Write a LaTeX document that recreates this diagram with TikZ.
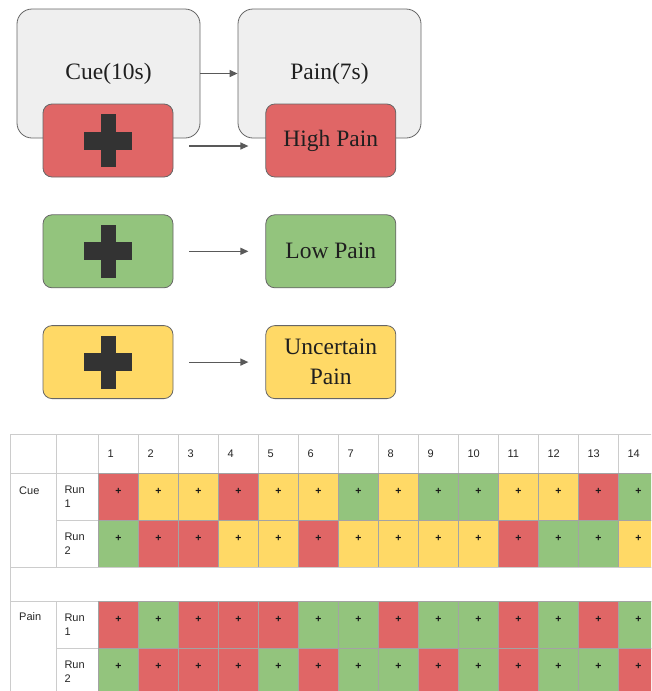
\documentclass[tikz,border=0pt]{standalone}
\usepackage{fontspec}
\setmainfont{Liberation Serif}
\newfontfamily\tablefont{Liberation Sans}
\usetikzlibrary{arrows.meta,positioning}

\definecolor{hi}{HTML}{E06666}
\definecolor{lo}{HTML}{93C47D}
\definecolor{un}{HTML}{FFD966}
\definecolor{phasegray}{HTML}{EFEFEF}
\definecolor{edgegray}{HTML}{666666}
\definecolor{arrowgray}{HTML}{595959}
\definecolor{crossgray}{HTML}{333333}
\definecolor{gridgray}{HTML}{CCCCCC}
\definecolor{cellgray}{HTML}{A3A3A3}

\tikzset{
  phase/.style={draw=edgegray,fill=phasegray,line width=0.8pt,rounded corners=15pt,
    minimum width=183pt,minimum height=129pt,font=\fontsize{23.5}{30}\selectfont,text=black!88},
  cuebox/.style={draw=edgegray,fill=#1,line width=0.8pt,rounded corners=9pt,
    minimum width=130pt,minimum height=73pt,align=center,font=\fontsize{23.5}{30}\selectfont,text=black!88},
  flow/.style={draw=arrowgray,line width=1.2pt,-{Triangle[length=8pt,width=7pt]}},
  head/.style={draw=gridgray,fill=white,line width=1pt,anchor=north west,minimum width=40pt,
    minimum height=39pt,inner xsep=9pt,text width=22pt,align=left,
    font=\tablefont\fontsize{11}{13}\selectfont,text=black!85},
  labcell/.style={draw=gridgray,fill=white,line width=1pt,anchor=north west,
    minimum width=46pt,minimum height=94pt},
  runcell/.style={draw=gridgray,fill=white,line width=1pt,anchor=north west,minimum width=42pt,
    minimum height=47pt,inner xsep=8pt,text width=26pt,align=left,
    font=\tablefont\fontsize{11}{14}\selectfont,text=black!85},
  txt/.style={anchor=west,inner sep=0pt,font=\tablefont\fontsize{11}{13}\selectfont,text=black!85},
  cell/.style={draw=cellgray,fill=#1,line width=0.8pt,anchor=north west,minimum width=40pt,
    minimum height=47pt,inner sep=0pt,text height=3pt,text depth=7.5pt,
    font=\tablefont\bfseries\fontsize{10.5}{12}\selectfont,text=black!90},
  gaprow/.style={draw=gridgray,fill=white,line width=1pt,anchor=north west,
    minimum width=648pt,minimum height=34pt}
}

\begin{document}
\begin{tikzpicture}[x=1pt,y=-1pt]
  \clip (0,0) rectangle (651,691);
  \fill[white] (0,0) rectangle (651,691);

  % Phases
  \node[phase] (cue) at (108.5,73.5) {Cue(10s)};
  \node[phase] (pain) at (329.5,73.5) {Pain(7s)};

  % Cue / pain pairs
  \node[cuebox=hi] (cue-high) at (108,140.5) {};
  \node[cuebox=hi,right=92pt of cue-high] (pain-high) {High Pain};
  \node[cuebox=lo,below=37pt of cue-high] (cue-low) {};
  \node[cuebox=lo,right=92pt of cue-low] (pain-low) {Low Pain};
  \node[cuebox=un,below=37pt of cue-low] (cue-unc) {};
  \node[cuebox=un,right=92pt of cue-unc] (pain-unc) {Uncertain\\Pain};

  % Crosses
  \foreach \n in {cue-high,cue-low,cue-unc}{
    \fill[crossgray] ([xshift=-7.5pt,yshift=-26.5pt]\n.center) rectangle ([xshift=7.5pt,yshift=26.5pt]\n.center);
    \fill[crossgray] ([xshift=-24pt,yshift=-9pt]\n.center) rectangle ([xshift=24pt,yshift=9pt]\n.center);
  }

  % Arrows
  \draw[flow] (cue) -- (pain);
  \draw[flow,shorten <=16pt,shorten >=17pt] ([yshift=-5.5pt]cue-high.east) -- ([yshift=-5.5pt]pain-high.west);
  \draw[flow,shorten <=16pt,shorten >=17pt] (cue-low) -- (pain-low);
  \draw[flow,shorten <=16pt,shorten >=17pt] (cue-unc) -- (pain-unc);

  % Table header
  \node[head,minimum width=46pt] (h-a) at (10,434) {};
  \node[head,minimum width=42pt] (h-b) at (56,434) {};
  \foreach \k in {1,...,14}
    \node[head] (h-\k) at ({98+40*(\k-1)},434) {\k};

  % Cue block
  \node[labcell] (cue-lab) at (10,473) {};
  \node[txt] (cue-txt) at ([xshift=9pt,yshift=-18pt]cue-lab.north west) {Cue};
  \node[runcell] (cue-r1) at (56,473) {Run\\1};
  \node[runcell] (cue-r2) at (56,520) {Run\\2};
  \foreach \c [count=\k] in {hi,un,un,hi,un,un,lo,un,lo,lo,un,un,hi,lo}
    \node[cell=\c] (c1-\k) at ({98+40*(\k-1)},473) {+};
  \foreach \c [count=\k] in {lo,hi,hi,un,un,hi,un,un,un,un,hi,lo,lo,un}
    \node[cell=\c] (c2-\k) at ({98+40*(\k-1)},520) {+};

  % Gap
  \node[gaprow] (gap) at (10,567) {};

  % Pain block
  \node[labcell] (pain-lab) at (10,601) {};
  \node[txt] (pain-txt) at ([xshift=9pt,yshift=-16pt]pain-lab.north west) {Pain};
  \node[runcell] (pain-r1) at (56,601) {Run\\1};
  \node[runcell] (pain-r2) at (56,648) {Run\\2};
  \foreach \c [count=\k] in {hi,lo,hi,hi,hi,lo,lo,hi,lo,lo,hi,lo,hi,lo}
    \node[cell=\c] (p1-\k) at ({98+40*(\k-1)},601) {+};
  \foreach \c [count=\k] in {lo,hi,hi,hi,lo,hi,lo,lo,hi,lo,hi,lo,lo,hi}
    \node[cell=\c] (p2-\k) at ({98+40*(\k-1)},648) {+};
\end{tikzpicture}
\end{document}
